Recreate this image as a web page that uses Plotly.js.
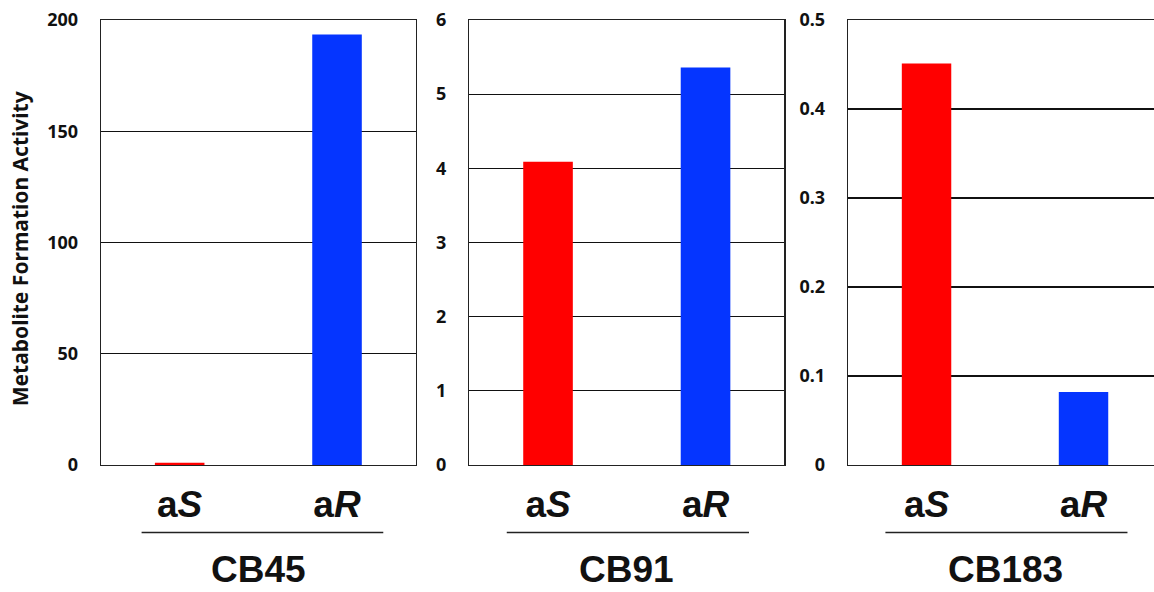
<!DOCTYPE html>
<html>
<head>
<meta charset="utf-8">
<script src="https://cdn.plot.ly/plotly-3.0.1.min.js"></script>
<style>
html,body{margin:0;padding:0;overflow:hidden;background:#fff;}
#chart{width:1170px;height:592px;}
</style>
</head>
<body>
<div id="chart"></div>
<script>
// Data
const categories = ['aS', 'aR'];
const categoryLabels = ['a<i>S</i>', 'a<i>R</i>'];
const compounds = ['CB45', 'CB91', 'CB183'];
const cb45Values = [1.0, 193.5];
const cb91Values = [4.09, 5.36];
const cb183Values = [0.451, 0.082];
const barColors = ['#ff0000', '#0535ff'];
const yTitle = 'Metabolite Formation Activity';

const series = [cb45Values, cb91Values, cb183Values];
const axisIds = ['', '2', '3'];

const traces = series.map((vals, i) => ({
  type: 'bar',
  x: categories,
  y: vals,
  xaxis: 'x' + axisIds[i],
  yaxis: 'y' + axisIds[i],
  marker: {color: barColors, line: {width: 0}},
  hoverinfo: 'x+y',
  showlegend: false
}));

const tickFont = {family: 'Noto Sans, Open Sans, sans-serif', size: 18, color: '#111', weight: 'bold'};
const catFont = {family: 'Liberation Sans, Arial, sans-serif', size: 37, color: '#111', weight: 'bold'};
const lineCol = '#222';

function xAxis(domain, anchor) {
  return {
    domain: domain, anchor: anchor, type: 'category',
    tickmode: 'array', tickvals: categories, ticktext: categoryLabels,
    range: [-0.5, 1.5],
    showline: true, mirror: true, linecolor: lineCol, linewidth: 1.3,
    showgrid: false, ticks: '', tickfont: catFont, ticklabelstandoff: 6,
    fixedrange: true
  };
}
function yAxis(range, dtick, anchor) {
  return {
    range: range, dtick: dtick, tick0: 0, anchor: anchor,
    showline: true, mirror: true, linecolor: lineCol, linewidth: 1.3,
    showgrid: true, gridcolor: '#111', gridwidth: 1.2,
    zeroline: false, ticks: '', tickfont: tickFont, ticklabelstandoff: 18,
    fixedrange: true
  };
}

const d1 = [0, 0.2966], d2 = [0.3471, 0.6440], d3 = [0.7041, 1];

const lineY = -0.1516;
const shapes = [
  {type: 'line', xref: 'x domain', yref: 'paper', x0: 0.129, x1: 0.897, y0: lineY, y1: lineY, line: {color: '#222', width: 1.5}},
  {type: 'line', xref: 'x2 domain', yref: 'paper', x0: 0.119, x1: 0.888, y0: lineY, y1: lineY, line: {color: '#222', width: 1.5}},
  {type: 'line', xref: 'x3 domain', yref: 'paper', x0: 0.119, x1: 0.890, y0: lineY, y1: lineY, line: {color: '#222', width: 1.5}}
];

const groupFont = {family: 'Liberation Sans, Arial, sans-serif', size: 37, color: '#111', weight: 'bold'};
const annotations = compounds.map((c, i) => ({
  text: c, xref: 'x' + axisIds[i] + ' domain', yref: 'paper',
  x: 0.5, y: -0.2357, xanchor: 'center', yanchor: 'middle',
  showarrow: false, font: groupFont
}));
annotations.push({
  text: yTitle, xref: 'paper', yref: 'paper', x: -0.0763, y: 0.485,
  xanchor: 'center', yanchor: 'middle', textangle: -90, showarrow: false,
  font: {family: 'Noto Sans, Open Sans, sans-serif', size: 21, color: '#111', weight: 'bold'}
});

const layout = {
  width: 1170, height: 592,
  margin: {l: 101, r: 8, t: 19.5, b: 126.5},
  paper_bgcolor: '#fff', plot_bgcolor: '#fff',
  bargap: 0.685,
  showlegend: false,
  xaxis: xAxis(d1, 'y'),
  xaxis2: xAxis(d2, 'y2'),
  xaxis3: xAxis(d3, 'y3'),
  yaxis: yAxis([0, 200], 50, 'x'),
  yaxis2: yAxis([0, 6], 1, 'x2'),
  yaxis3: yAxis([0, 0.5], 0.1, 'x3'),
  shapes: shapes,
  annotations: annotations
};

Plotly.newPlot('chart', traces, layout, {displayModeBar: false, staticPlot: true});
</script>
</body>
</html>
